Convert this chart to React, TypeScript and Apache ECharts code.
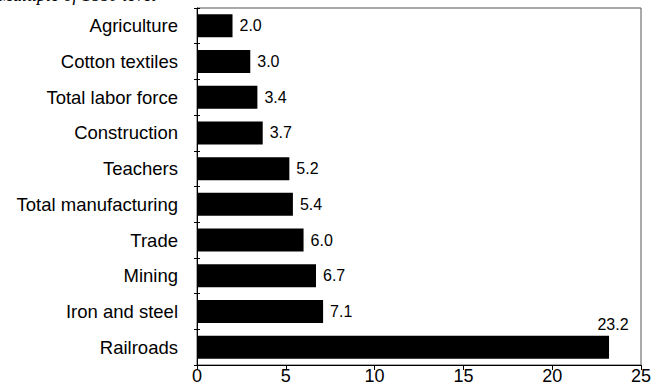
import React, { useEffect, useRef } from "react";
import * as echarts from "echarts";

const categories = [
  "Railroads",
  "Iron and steel",
  "Mining",
  "Trade",
  "Total manufacturing",
  "Teachers",
  "Construction",
  "Total labor force",
  "Cotton textiles",
  "Agriculture",
];
const values = [23.2, 7.1, 6.7, 6.0, 5.4, 5.2, 3.7, 3.4, 3.0, 2.0];
const titleText = "Multiple of 1880 level";

export default function App() {
  const ref = useRef<HTMLDivElement>(null);
  useEffect(() => {
    document.body.style.margin = "0";
    const chart = echarts.init(ref.current!, null, { renderer: "svg" });
    const font = "Liberation Sans, Arial, sans-serif";
    chart.setOption({
      animation: false,
      backgroundColor: "#fff",
      graphic: [
        {
          type: "text",
          left: -2,
          top: -14,
          style: {
            text: titleText,
            font: "italic 18px 'Liberation Serif', 'Times New Roman', serif",
            fill: "#000",
          },
        },
      ],
      grid: {
        left: 197,
        right: 26,
        top: 8,
        bottom: 19,
        show: true,
        borderColor: "#555",
        borderWidth: 1,
        containLabel: false,
      },
      xAxis: {
        type: "value",
        min: 0,
        max: 25,
        interval: 5,
        axisLine: { show: true, lineStyle: { color: "#000" } },
        axisTick: { show: true, length: 5, lineStyle: { color: "#000" } },
        axisLabel: { color: "#000", fontSize: 18, fontFamily: font, margin: 2 },
        splitLine: { show: false },
      },
      yAxis: [
        {
          type: "category",
          data: categories,
          axisLine: { show: true, lineStyle: { color: "#000" } },
          axisTick: { show: true, length: 3, lineStyle: { color: "#000" } },
          axisLabel: { color: "#000", fontSize: 18.5, fontFamily: font, margin: 19 },
        },
        {
          type: "category",
          data: categories,
          position: "left",
          axisLine: { show: false },
          axisTick: { show: true, inside: true, length: 3, lineStyle: { color: "#000" } },
          axisLabel: { show: false },
        },
      ],
      series: [
        {
          type: "bar",
          yAxisIndex: 0,
          data: values.map((v, i) =>
            i === 0
              ? {
                  value: v,
                  label: {
                    position: ["100%", 0],
                    align: "center",
                    verticalAlign: "bottom",
                    offset: [4, -3],
                  },
                }
              : v
          ),
          barWidth: 23,
          itemStyle: { color: "#000" },
          label: {
            show: true,
            position: "right",
            distance: 7,
            color: "#000",
            fontSize: 16,
            fontFamily: font,
            formatter: (p: any) => Number(p.value).toFixed(1),
          },
        },
      ],
    });
    return () => chart.dispose();
  }, []);
  return (
    <div
      ref={ref}
      style={{ position: "absolute", left: 0, top: 0, width: 667, height: 385 }}
    />
  );
}
